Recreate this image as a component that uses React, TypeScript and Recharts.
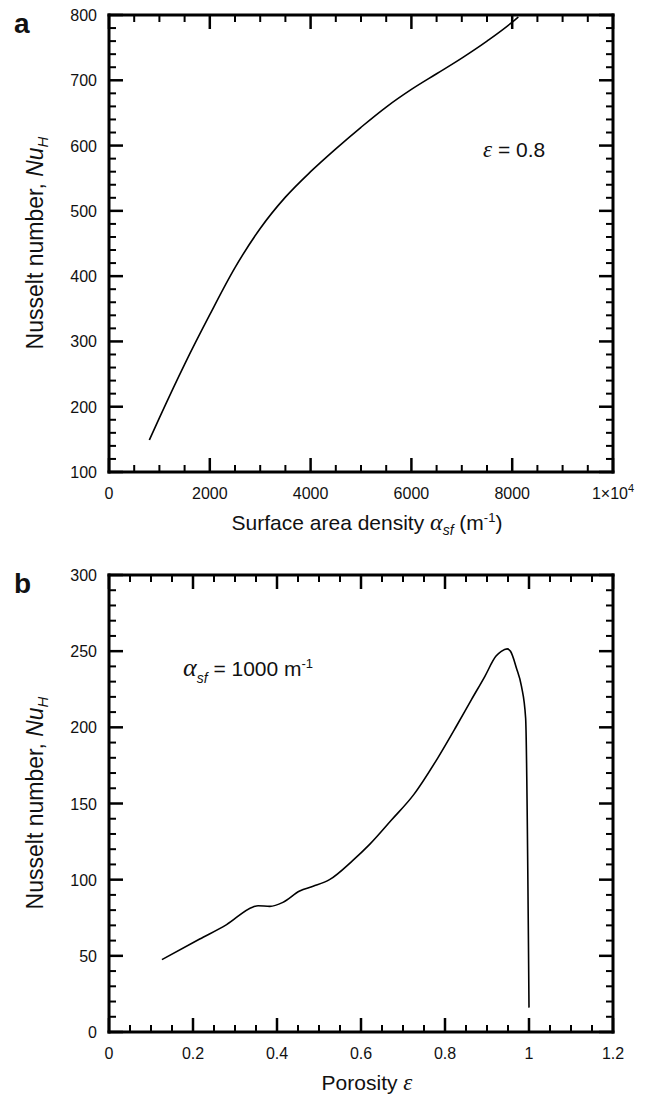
import React from 'react';
import { LineChart, Line, XAxis, YAxis, ReferenceLine } from 'recharts';

// panel a: Nu_H vs surface area density (epsilon = 0.8)
const alphaSf = [800, 1000, 1500, 2000, 2500, 3000, 3500, 4000, 4500, 5000, 5500, 6000, 6500, 7000, 7500, 8000, 8120];
const nuA = [149, 183, 265, 341, 413, 473, 521, 560, 595, 628, 659, 686, 710, 734, 760, 789, 797];

// panel b: Nu_H vs porosity (alpha_sf = 1000 m^-1)
const porosity = [0.126, 0.216, 0.28, 0.343, 0.355, 0.383, 0.414, 0.454, 0.486, 0.525, 0.58, 0.62, 0.672, 0.726, 0.783, 0.827, 0.863, 0.895, 0.921, 0.934, 0.948, 0.956, 0.97, 0.982, 0.992, 1.0];
const nuB = [47.5, 61, 70.5, 82.1, 82.9, 82.5, 85.1, 92.5, 95.6, 100, 112.5, 123, 139, 156, 180, 200.7, 218.2, 233.5, 246.6, 249.9, 251.5, 249.9, 239, 227, 206, 16];

// axes: [min, max, major step, minor step]
const xAxisA = [0, 10000, 2000, 500];
const yAxisA = [100, 800, 100, 20];
const xAxisB = [0, 1.2, 0.2, 0.05];
const yAxisB = [0, 300, 50, 10];

const dataA = alphaSf.map((x, i) => ({ x, y: nuA[i] }));
const dataB = porosity.map((x, i) => ({ x, y: nuB[i] }));

const FONT = '"Liberation Sans", Arial, Helvetica, sans-serif';
const GREEK = '"Liberation Serif", "Times New Roman", serif';

const PLOT_W = 504;
const PLOT_H = 457;

function steps(lo: number, hi: number, step: number) {
  const out: number[] = [];
  const n = Math.round((hi - lo) / step);
  for (let i = 0; i <= n; i++) out.push(Math.round((lo + i * step) * 1000) / 1000);
  return out;
}

function fmtA(v: number) {
  if (v === 10000) {
    return (
      <>
        1×10<tspan fontSize={11} dy={-7}>4</tspan>
      </>
    );
  }
  return String(v);
}

function fmtPlain(v: number) {
  return String(Math.round(v * 10) / 10);
}

function isMajorTick(v: number, major: number) {
  return Math.abs(v / major - Math.round(v / major)) < 1e-6;
}

// bottom axis tick: inward tick at bottom and mirrored one at top, plus label
function makeXTick(major: number, fmt: (v: number) => React.ReactNode) {
  return (p: any) => {
    const v = p.payload.value;
    const mj = isMajorTick(v, major);
    const len = mj ? 14 : 7;
    const sw = mj ? 2.5 : 2;
    const x = p.x;
    const y = p.y;
    return (
      <g key={`x-${v}`}>
        <path d={`M${x},${y}V${y - len}`} stroke="#000" strokeWidth={sw} />
        <path d={`M${x},${y - PLOT_H}V${y - PLOT_H + len}`} stroke="#000" strokeWidth={sw} />
        {mj && (
          <text x={x} y={y + 27} textAnchor="middle" fontSize={16} fontFamily={FONT} fill="#111">
            {fmt(v)}
          </text>
        )}
      </g>
    );
  };
}

// left axis tick: inward ticks on both left and right edges, plus label
function makeYTick(major: number, fmt: (v: number) => React.ReactNode) {
  return (p: any) => {
    const v = p.payload.value;
    const mj = isMajorTick(v, major);
    const len = mj ? 14 : 7;
    const sw = mj ? 2.5 : 2;
    const x = p.x;
    const y = p.y;
    return (
      <g key={`y-${v}`}>
        <path d={`M${x},${y}H${x + len}`} stroke="#000" strokeWidth={sw} />
        <path d={`M${x + PLOT_W},${y}H${x + PLOT_W - len}`} stroke="#000" strokeWidth={sw} />
        {mj && (
          <text x={x - 12} y={y + 6} textAnchor="end" fontSize={16} fontFamily={FONT} fill="#111">
            {fmt(v)}
          </text>
        )}
      </g>
    );
  };
}

const frame = { stroke: '#000', strokeWidth: 3, strokeLinecap: 'square' as const };

function Panel({ data, xa, ya, fmtX, fmtY, height, margin }: any) {
  const xt = steps(xa[0], xa[1], xa[3]);
  const yt = steps(ya[0], ya[1], ya[3]);
  return (
    <LineChart width={648} height={height} data={data} margin={margin}>
      <XAxis
        dataKey="x"
        type="number"
        domain={[xa[0], xa[1]]}
        ticks={xt}
        interval={0}
        allowDataOverflow
        height={30}
        tickSize={0}
        tickMargin={0}
        axisLine={frame}
        tick={makeXTick(xa[2], fmtX)}
      />
      <YAxis
        type="number"
        domain={[ya[0], ya[1]]}
        ticks={yt}
        interval={0}
        allowDataOverflow
        width={109}
        tickSize={0}
        tickMargin={0}
        axisLine={frame}
        tick={makeYTick(ya[2], fmtY)}
      />
      <ReferenceLine y={ya[1]} stroke="#000" strokeWidth={3} strokeLinecap="square" />
      <ReferenceLine x={xa[1]} stroke="#000" strokeWidth={3} strokeLinecap="square" />
      <Line
        dataKey="y"
        type="monotone"
        stroke="#000"
        strokeWidth={1.6}
        dot={false}
        isAnimationActive={false}
      />
    </LineChart>
  );
}

function YTitle({ cy }: { cy: number }) {
  return (
    <text
      transform={`translate(43, ${cy}) rotate(-90)`}
      textAnchor="middle"
      fontSize={23}
      fontFamily={FONT}
      fill="#111"
    >
      Nusselt number, <tspan fontStyle="italic">Nu</tspan>
      <tspan fontStyle="italic" fontSize={15} dy={5}>H</tspan>
    </text>
  );
}

export default function App() {
  return (
    <div style={{ position: 'absolute', left: 0, top: 0, width: 648, height: 1095, background: '#fff' }}>
      <svg width={648} height={1095} style={{ position: 'absolute', left: 0, top: 0 }}>
        <text x={14} y={33} fontSize={28} fontWeight="bold" fontFamily={FONT} fill="#111">a</text>
        <text x={14} y={593} fontSize={28} fontWeight="bold" fontFamily={FONT} fill="#111">b</text>

        <YTitle cy={243} />
        <YTitle cy={803} />

        <text x={367} y={530} textAnchor="middle" fontSize={21} fontFamily={FONT} fill="#111">
          Surface area density{' '}
          <tspan fontFamily={GREEK} fontStyle="italic" fontSize={24}>α</tspan>
          <tspan fontStyle="italic" fontSize={14} dy={5}>sf</tspan>
          <tspan dy={-5}> (m</tspan>
          <tspan fontSize={13} dy={-8}>-1</tspan>
          <tspan dy={8}>)</tspan>
        </text>

        <text x={367} y={1090} textAnchor="middle" fontSize={21} fontFamily={FONT} fill="#111">
          Porosity <tspan fontFamily={GREEK} fontStyle="italic" fontSize={23}>ε</tspan>
        </text>

        <text x={483} y={157} fontSize={21} fontFamily={FONT} fill="#111">
          <tspan fontFamily={GREEK} fontStyle="italic" fontSize={23}>ε</tspan> = 0.8
        </text>

        <text x={183} y={676} fontSize={21} fontFamily={FONT} fill="#111">
          <tspan fontFamily={GREEK} fontStyle="italic" fontSize={26}>α</tspan>
          <tspan fontStyle="italic" fontSize={14} dy={7}>sf</tspan>
          <tspan dy={-7}> = 1000 m</tspan>
          <tspan fontSize={13} dy={-8}>-1</tspan>
        </text>
      </svg>
      <div style={{ position: 'absolute', left: 0, top: 0 }}>
        <Panel
          data={dataA}
          xa={xAxisA}
          ya={yAxisA}
          fmtX={fmtA}
          fmtY={fmtPlain}
          height={545}
          margin={{ top: 15, right: 35, bottom: 43, left: 0 }}
        />
      </div>
      <div style={{ position: 'absolute', left: 0, top: 545 }}>
        <Panel
          data={dataB}
          xa={xAxisB}
          ya={yAxisB}
          fmtX={fmtPlain}
          fmtY={fmtPlain}
          height={550}
          margin={{ top: 30, right: 35, bottom: 33, left: 0 }}
        />
      </div>
    </div>
  );
}
